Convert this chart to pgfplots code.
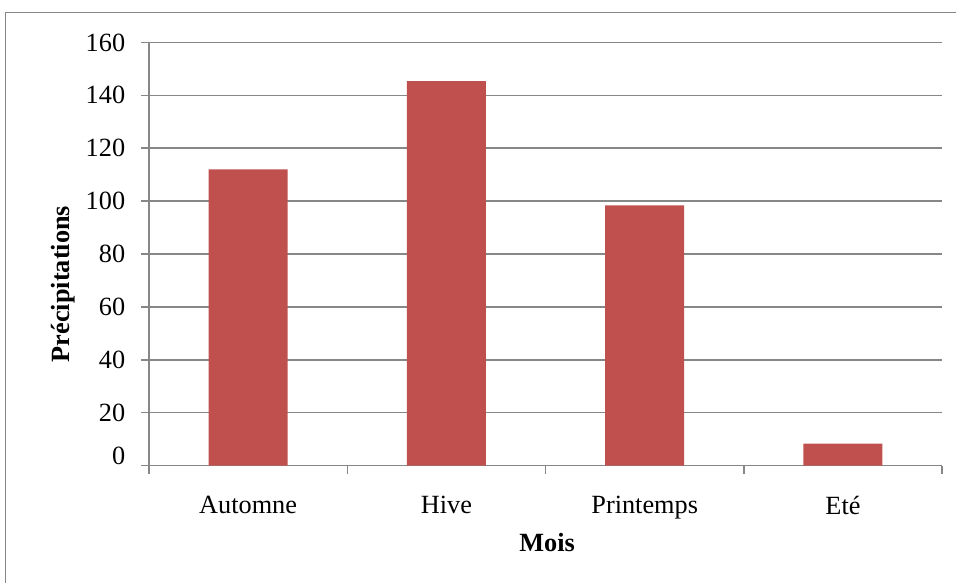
\documentclass[border=0pt,12pt]{standalone}
\usepackage{fontspec}
\setmainfont{Liberation Serif}
\usepackage{pgfplots}
\pgfplotsset{compat=1.18}

\definecolor{barred}{HTML}{C0504D}
\definecolor{gridgray}{HTML}{878787}

\pgfplotstableread{
x  val
0  112.0
1  145.4
2  98.4
3  8.3
}\precip

\begin{document}
\begin{tikzpicture}
  % canvas and outer frame
  \useasboundingbox (0,0) rectangle (436.6pt,265.8pt);
  \draw[gridgray, line width=0.7pt] (2.5pt,-1pt) -- (2.5pt,260.1pt) -- (437.6pt,260.1pt);
  \begin{axis}[
    at={(68.05pt,53.2pt)}, anchor=south west,
    scale only axis,
    width=362.2pt, height=193.2pt,
    xmin=-0.5, xmax=3.5,
    ymin=0, ymax=160,
    ytick={0,20,...,160},
    % the bottom label sits a little above its line
    yticklabels={\raisebox{9pt}{0},20,40,60,80,100,120,140,160},
    xtick={-0.5,0.5,1.5,2.5,3.5},
    xticklabels={Automne,Hive,Printemps,Eté},
    x tick label as interval,
    axis x line*=bottom,
    axis y line*=left,
    axis line style={gridgray, line width=0.7pt, -},
    tick align=outside,
    major tick length=3.7pt,
    tick style={gridgray, line width=0.7pt},
    ymajorgrids,
    grid style={gridgray, line width=0.7pt},
    /pgf/number format/assume math mode=true,
    tick label style={font=\fontsize{12}{14}\selectfont},
    xticklabel style={yshift=-6pt},
    yticklabel style={xshift=-3pt},
    xlabel={\textbf{Mois}},
    ylabel={\textbf{Précipitations}},
    xlabel style={at={(axis description cs:0.502,-0.181)}, anchor=center},
    ylabel style={at={(axis description cs:-0.1085,0.429)}, anchor=center, rotate=0},
    label style={font=\fontsize{12}{14}\selectfont},
    clip=false,
  ]
    \addplot[ybar, bar width=36.1pt, fill=barred, draw=none] table[x=x, y=val] {\precip};
  \end{axis}
\end{tikzpicture}
\end{document}
